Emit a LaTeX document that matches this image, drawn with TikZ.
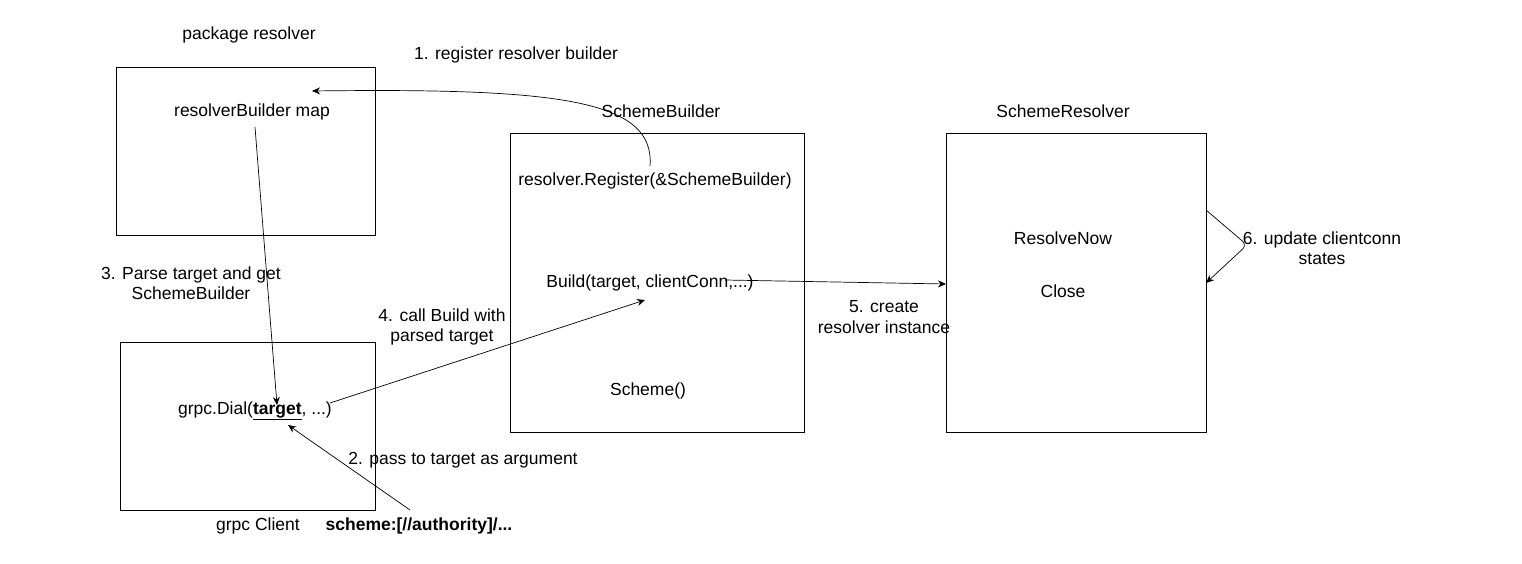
\documentclass[tikz,border=0pt]{standalone}
\usepackage{fontspec}
\setmainfont{Liberation Sans}
\usetikzlibrary{arrows.meta}
\begin{document}
\begin{tikzpicture}[x=1pt,y=-1pt,
  box/.style={draw,line width=0.8pt},
  t/.style={font=\fontsize{17.5}{20.5}\selectfont,align=center,inner sep=1pt},
  arr/.style={-{Stealth[length=8pt,width=7pt]},line width=0.7pt}]
\useasboundingbox[fill=white] (0,0) rectangle (1522,564);
\draw[box] (116,67) rectangle (375,235);
\draw[box] (120,342) rectangle (375,510);
\draw[box] (510,133) rectangle (804,432);
\draw[box] (946,133) rectangle (1206,432);
\node[t] (lpr) at (249,35) {package resolver};
\node[t] (lgc) at (258,526) {grpc Client};
\node[t] (lsb) at (661,111) {SchemeBuilder};
\node[t] (lsr) at (1063,111) {SchemeResolver};
\node[t] (map) at (252,112) {resolverBuilder map};
\node[t] (reg) at (655,181) {resolver.Register(\&SchemeBuilder)};
\node[t] (build) at (650,283) {Build(target, clientConn,...)};
\node[t] (sch) at (648,391) {Scheme()};
\node[t] (rn) at (1063,238) {ResolveNow};
\node[t] (cl) at (1063,291) {Close};
\node[t] (dial) at (255,411) {grpc.Dial(\underline{\textbf{target}}, ...)};
\node[t] (uri) at (419,526) {\textbf{scheme:[//authority]/...}};
\node[t] at (516,55) {1. register resolver builder};
\node[t] at (191,283) {3. Parse target and get\\SchemeBuilder};
\node[t] at (442,327) {4. call Build with\\parsed target};
\node[t] at (884,317) {5. create\\resolver instance};
\node[t] at (1322,248) {6. update clientconn\\states};
\node[t] at (463,460) {2. pass to target as argument};
\coordinate (c1) at (650,166);
\coordinate (e1) at (312,91);
\draw[arr] (c1) .. controls (655,100) and (560,88) .. (e1);
\draw[arr] (255,127) -- (277,405);
\draw[arr] (330,403) -- (645,300);
\draw[arr] (725,280) -- (946,284);
\draw[arr,rounded corners=6pt] (1206,210) -- (1247,245) -- (1206,283);
\draw[arr] (410,510) -- (288,425);
\end{tikzpicture}
\end{document}
